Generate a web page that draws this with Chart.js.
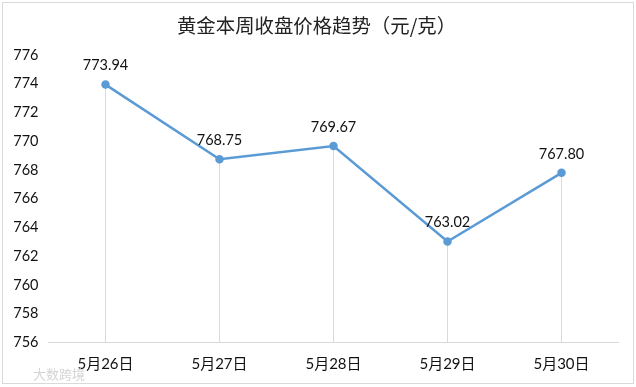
<!DOCTYPE html>
<html>
<head>
  <meta charset="utf-8">
  <title>黄金本周收盘价格趋势</title>
  <script src="https://cdnjs.cloudflare.com/ajax/libs/Chart.js/4.4.1/chart.umd.min.js"></script>
  <style>
    html, body { margin: 0; padding: 0; background: #fff; }
    #wrap { position: relative; width: 636px; height: 387px; overflow: hidden; }
    #frame { position: absolute; left: 2px; top: 2px; width: 630px; height: 380px; border: 1px solid #d9d9d9; }
    #mark { position: absolute; left: 33px; top: 364px; font: 13px "Noto Sans CJK SC", sans-serif; color: #d4d4d4; }
  </style>
</head>
<body>
  <div id="wrap">
    <div id="frame"></div>
    <canvas id="priceChart" width="636" height="387" style="position:absolute;left:0;top:0;width:636px;height:387px"></canvas>
    <div id="mark">大数跨境</div>
  </div>

  <script>
    const chartTitle = '黄金本周收盘价格趋势（元/克）';
    const days = ['5月26日', '5月27日', '5月28日', '5月29日', '5月30日'];
    const prices = [773.94, 768.75, 769.67, 763.02, 767.80];
    const priceLabels = ['773.94', '768.75', '769.67', '763.02', '767.80'];

    const latinFont = 'Lato, "Noto Sans CJK SC", sans-serif';

    // value labels above the points, title nudged right like the original
    const valueLabels = {
      id: 'valueLabels',
      afterLayout(chart) {
        chart.titleBlock.left += 14;
      },
      afterDatasetsDraw(chart) {
        const ctx = chart.ctx;
        const pts = chart.getDatasetMeta(0).data;
        ctx.save();
        ctx.font = '14.5px ' + latinFont;
        ctx.fillStyle = '#111';
        ctx.textAlign = 'center';
        ctx.textBaseline = 'middle';
        pts.forEach((p, i) => ctx.fillText(priceLabels[i], p.x, p.y - 19));
        ctx.restore();
      }
    };

    new Chart(document.getElementById('priceChart'), {
      data: {
        labels: days,
        datasets: [
          {
            type: 'line',
            data: prices,
            borderColor: '#5b9bd5',
            backgroundColor: '#5b9bd5',
            borderWidth: 2.5,
            pointRadius: 3,
            tension: 0,
            order: 0
          },
          {
            // thin bars act as the drop lines down to the axis
            type: 'bar',
            data: prices,
            backgroundColor: '#d9d9d9',
            barThickness: 1,
            inflateAmount: 0,
            order: 1
          }
        ]
      },
      options: {
        responsive: false,
        animation: false,
        layout: { padding: { left: 0.5, right: 17.5, top: 0, bottom: 0 } },
        plugins: {
          legend: { display: false },
          tooltip: { enabled: false },
          title: {
            display: true,
            text: chartTitle,
            color: '#222',
            font: { family: '"Noto Sans CJK SC", sans-serif', size: 19.4, weight: 'normal' },
            padding: { top: 14, bottom: 17.7 }
          }
        },
        scales: {
          x: {
            grid: { display: false },
            border: { display: true, color: '#d9d9d9' },
            ticks: { color: '#111', font: { family: latinFont, size: 15 }, padding: 5, maxRotation: 0 },
            afterFit(scale) { scale.height = 44.5; }
          },
          y: {
            min: 756,
            max: 776,
            grid: { display: false, drawTicks: false },
            border: { display: false },
            ticks: { stepSize: 2, color: '#111', font: { family: latinFont, size: 14.5 }, padding: 10 },
            afterFit(scale) { scale.width = 48; }
          }
        }
      },
      plugins: [valueLabels]
    });
  </script>
</body>
</html>
